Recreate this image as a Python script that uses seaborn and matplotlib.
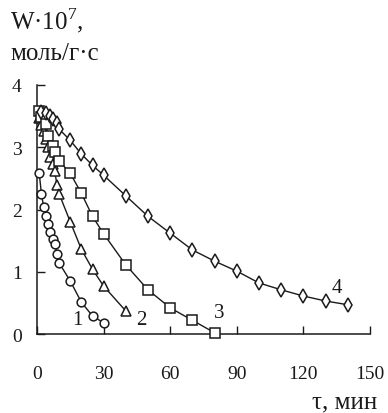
import pandas as pd
import matplotlib
matplotlib.use("Agg")
import matplotlib.pyplot as plt
import seaborn as sns

# curve 1 (circles)
t1 = [1, 2, 3, 4, 5, 6, 7, 8, 9, 10, 15, 20, 25, 30]
w1 = [2.58, 2.25, 2.04, 1.89, 1.77, 1.64, 1.52, 1.44, 1.28, 1.14, 0.85, 0.51, 0.29, 0.18]

# curve 2 (triangles)
t2 = [1, 2, 3, 4, 5, 6, 7, 8, 9, 10, 15, 20, 25, 30, 40]
w2 = [3.47, 3.35, 3.26, 3.13, 3.00, 2.84, 2.73, 2.62, 2.39, 2.25, 1.80, 1.36, 1.04, 0.77, 0.37]

# curve 3 (squares)
t3 = [1, 2, 4, 5, 7, 8, 10, 15, 20, 25, 30, 40, 50, 60, 70, 80]
w3 = [3.58, 3.48, 3.37, 3.18, 3.02, 2.92, 2.78, 2.58, 2.26, 1.89, 1.61, 1.11, 0.71, 0.42, 0.22, 0.02]

# curve 4 (diamonds)
t4 = [2, 4, 6, 7, 9, 10, 15, 20, 25, 30, 40, 50, 60, 70, 80, 90, 100, 110, 120, 130, 140]
w4 = [3.56, 3.55, 3.50, 3.45, 3.39, 3.29, 3.11, 2.89, 2.71, 2.55, 2.22, 1.89, 1.62, 1.35,
      1.17, 1.01, 0.82, 0.71, 0.61, 0.53, 0.47]

curve_labels = ["1", "2", "3", "4"]
label_pos = [(18, 0.24), (47, 0.24), (82, 0.35), (135, 0.74)]

sns.set_style("ticks")
plt.rcParams["font.family"] = ["Liberation Serif", "DejaVu Serif"]
plt.rcParams["mathtext.fontset"] = "custom"
plt.rcParams["mathtext.rm"] = "Liberation Serif"

fig = plt.figure(figsize=(3.88, 4.14), dpi=100)
ax = fig.add_axes([37 / 388, 1 - 335 / 414, 333 / 388, 249 / 414])

series = [(t1, w1, "o", 6.3), (t2, w2, "^", 7), (t3, w3, "s", 7.2), (t4, w4, "d", 7.5)]
for t, w, m, ms in series:
    df = pd.DataFrame({"t": t, "w": w})
    sns.lineplot(data=df, x="t", y="w", ax=ax, color="#1a1a1a", lw=1.0,
                 marker=m, markersize=ms, markerfacecolor="white",
                 markeredgecolor="#1a1a1a", markeredgewidth=1.1, clip_on=False,
                 zorder=3)

for lab, (x, y) in zip(curve_labels, label_pos):
    ax.text(x, y, lab, fontsize=15, ha="center", va="center", color="#1a1a1a")

ax.set_xlim(0, 150)
ax.set_ylim(0, 4)
ax.set_xticks([0, 30, 60, 90, 120, 150])
ax.set_yticks([0, 1, 2, 3, 4])
ax.tick_params(axis="x", direction="in", length=6, width=1, pad=22, labelsize=14,
               colors="#1a1a1a")
ax.tick_params(axis="y", direction="in", length=6, width=1, pad=11, labelsize=14,
               colors="#1a1a1a")
ax.set_xlabel("")
ax.set_ylabel("")
sns.despine(ax=ax)
for s in ["left", "bottom"]:
    ax.spines[s].set_linewidth(1.1)
    ax.spines[s].set_color("#1a1a1a")

fig.text(10 / 388, 1 - 29 / 414, "W·10$^7$,", fontsize=18, ha="left", va="baseline",
         color="#1a1a1a")
fig.text(10 / 388, 1 - 60 / 414, "моль/г·с", fontsize=18, ha="left", va="baseline",
         color="#1a1a1a")
fig.text(377 / 388, 1 - 408 / 414, "τ, мин", fontsize=18, ha="right", va="baseline",
         color="#1a1a1a")

fig.savefig("out.png", dpi=100)
